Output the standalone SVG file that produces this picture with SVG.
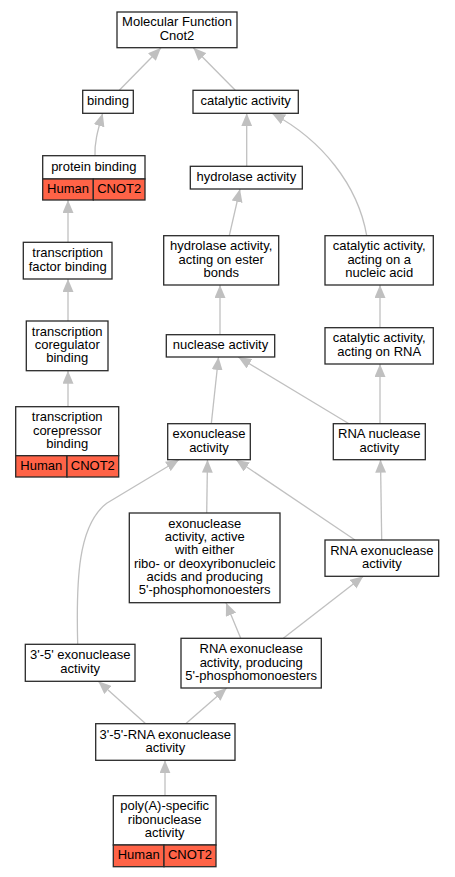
<svg xmlns="http://www.w3.org/2000/svg" width="455" height="877" viewBox="0 0 455 877">
<style>
.n rect{fill:#fff;stroke:#2a2a2a;stroke-width:1.3}
.n rect.h{fill:#ff6347}
text{font-family:"Liberation Sans",Arial,sans-serif;font-size:13px;text-anchor:middle;fill:#000}
.e path{fill:none;stroke:#c0c0c0;stroke-width:1.3;marker-end:url(#a)}
</style>
<defs>
<marker id="a" markerUnits="userSpaceOnUse" markerWidth="13" markerHeight="11" viewBox="0 0 13 11" refX="13" refY="5.5" orient="auto"><path d="M0,0 L13,5.5 L0,11 z" fill="#c0c0c0"/></marker>
</defs>
<rect width="455" height="877" fill="#fff"/>
<g class="e" id="edges">
<path d="M119.3,90.3 L161,47.7"/>
<path d="M235.3,90.3 L193.3,47.7"/>
<path d="M95,155.7 C94.5,143 97,133 102.7,113.3"/>
<path d="M246.7,166.3 L246.7,113.3"/>
<path d="M366.7,235.7 C358,185 322,140 272,113.3"/>
<path d="M68,242.3 L68,200"/>
<path d="M68,321 L68,279"/>
<path d="M68,406.7 L68,370.7"/>
<path d="M229.3,235.7 L240,189"/>
<path d="M220,334.7 L220,285"/>
<path d="M380,327.7 L380,285"/>
<path d="M211.3,423.7 L218.5,357"/>
<path d="M349,423.7 L238.3,357"/>
<path d="M380,423.7 L380,364"/>
<path d="M77.7,644.3 C76,580 78,525 106.7,503.3 L179,459.7"/>
<path d="M206.7,513 L207.5,459.7"/>
<path d="M355,540 L236,459.7"/>
<path d="M381.7,540 L380.5,459.7"/>
<path d="M240.7,638.3 L226,602.7"/>
<path d="M283.3,638.3 L363.3,576.3"/>
<path d="M145.7,723.7 L98.3,681.3"/>
<path d="M185.7,723.7 L226.7,688"/>
<path d="M165,795.7 L165,760.3"/>
</g>
<g class="n" id="mf"><rect x="117" y="12" width="120" height="35.7"/><text x="177" y="26.45">Molecular Function<tspan x="177" dy="13.3">Cnot2</tspan></text></g>
<g class="n" id="binding"><rect x="82.7" y="90.3" width="50.6" height="23"/><text x="108" y="105.1">binding</text></g>
<g class="n" id="catalytic"><rect x="193" y="90.3" width="105.3" height="23"/><text x="245.7" y="105.1">catalytic activity</text></g>
<g class="n" id="protein_binding"><rect x="42.7" y="155.7" width="102.3" height="23.3"/><rect class="h" x="42.7" y="179" width="50.6" height="21"/><rect class="h" x="93.3" y="179" width="51.7" height="21"/><text x="93.8" y="170.6">protein binding</text><text x="68" y="192.7">Human</text><text x="119.2" y="192.7">CNOT2</text></g>
<g class="n" id="hydrolase"><rect x="190.3" y="166.3" width="112" height="22.7"/><text x="246.3" y="181">hydrolase activity</text></g>
<g class="n" id="tfb"><rect x="23.3" y="242.3" width="88.7" height="36.7"/><text x="67.7" y="257.35">transcription<tspan x="67.7" dy="13.3">factor binding</tspan></text></g>
<g class="n" id="ester"><rect x="163.7" y="235.7" width="115" height="49.3"/><text x="221.2" y="250.3">hydrolase activity,<tspan x="221.2" dy="13.3">acting on ester</tspan><tspan x="221.2" dy="13.3">bonds</tspan></text></g>
<g class="n" id="nucleic"><rect x="325" y="235.7" width="108.3" height="49.3"/><text x="379.2" y="250.3">catalytic activity,<tspan x="379.2" dy="13.3">acting on a</tspan><tspan x="379.2" dy="13.3">nucleic acid</tspan></text></g>
<g class="n" id="tcb"><rect x="26.3" y="321" width="81.7" height="49.7"/><text x="67.2" y="335.8">transcription<tspan x="67.2" dy="13.3">coregulator</tspan><tspan x="67.2" dy="13.3">binding</tspan></text></g>
<g class="n" id="nuclease"><rect x="166.3" y="334.7" width="108.4" height="22.3"/><text x="220.5" y="349.1">nuclease activity</text></g>
<g class="n" id="catrna"><rect x="325" y="327.7" width="108.3" height="36.3"/><text x="379.2" y="342.45">catalytic activity,<tspan x="379.2" dy="13.3">acting on RNA</tspan></text></g>
<g class="n" id="tcorep"><rect x="15.7" y="406.7" width="103" height="49"/><rect class="h" x="15.7" y="455.7" width="51.3" height="21.3"/><rect class="h" x="67" y="455.7" width="51.7" height="21.3"/><text x="67.2" y="421.2">transcription<tspan x="67.2" dy="13.3">corepressor</tspan><tspan x="67.2" dy="13.3">binding</tspan></text><text x="41.3" y="469.6">Human</text><text x="92.8" y="469.6">CNOT2</text></g>
<g class="n" id="exonuclease"><rect x="167.7" y="423.7" width="82.6" height="36"/><text x="209" y="438.35">exonuclease<tspan x="209" dy="13.3">activity</tspan></text></g>
<g class="n" id="rnanuclease"><rect x="333.3" y="423.7" width="92" height="36"/><text x="379.3" y="438.35">RNA nuclease<tspan x="379.3" dy="13.3">activity</tspan></text></g>
<g class="n" id="exoactive"><rect x="129.3" y="513" width="150.7" height="89.7"/><text x="204.7" y="527.85">exonuclease<tspan x="204.7" dy="13.3">activity, active</tspan><tspan x="204.7" dy="13.3">with either</tspan><tspan x="204.7" dy="13.3">ribo- or deoxyribonucleic</tspan><tspan x="204.7" dy="13.3">acids and producing</tspan><tspan x="204.7" dy="13.3">5'-phosphomonoesters</tspan></text></g>
<g class="n" id="rnaexo"><rect x="325" y="540" width="113.7" height="36.3"/><text x="381.8" y="554.85">RNA exonuclease<tspan x="381.8" dy="13.3">activity</tspan></text></g>
<g class="n" id="exo35"><rect x="25.3" y="644.3" width="109.7" height="37"/><text x="80.2" y="659.45">3'-5' exonuclease<tspan x="80.2" dy="13.3">activity</tspan></text></g>
<g class="n" id="rnaexoprod"><rect x="181" y="638.3" width="140.3" height="49.7"/><text x="251.2" y="653.2">RNA exonuclease<tspan x="251.2" dy="13.3">activity, producing</tspan><tspan x="251.2" dy="13.3">5'-phosphomonoesters</tspan></text></g>
<g class="n" id="rnaexo35"><rect x="95.7" y="723.7" width="139.3" height="36.6"/><text x="165.3" y="738.65">3'-5'-RNA exonuclease<tspan x="165.3" dy="13.3">activity</tspan></text></g>
<g class="n" id="polya"><rect x="113.3" y="795.7" width="102.7" height="49.3"/><rect class="h" x="113.3" y="845" width="50.7" height="21.7"/><rect class="h" x="164" y="845" width="52" height="21.7"/><text x="164.7" y="810.3">poly(A)-specific<tspan x="164.7" dy="13.3">ribonuclease</tspan><tspan x="164.7" dy="13.3">activity</tspan></text><text x="138.7" y="859.1">Human</text><text x="190" y="859.1">CNOT2</text></g>
</svg>
